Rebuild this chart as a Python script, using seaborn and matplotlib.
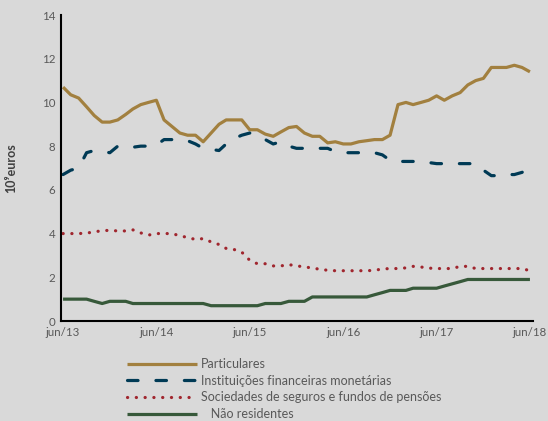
import pandas as pd
import matplotlib
matplotlib.use("Agg")
import matplotlib.pyplot as plt
import seaborn as sns

# monthly observations, jun/2013 .. jun/2018 (10^9 euros)
months = pd.date_range("2013-06-01", periods=61, freq="MS")

particulares = [10.7, 10.35, 10.2, 9.8, 9.4, 9.1, 9.1, 9.2, 9.45, 9.7,
                9.9, 10.0, 10.1, 9.2, 8.9, 8.6, 8.5, 8.5, 8.2, 8.6,
                9.0, 9.2, 9.2, 9.2, 8.75, 8.75, 8.55, 8.45, 8.65, 8.85,
                8.9, 8.6, 8.45, 8.45, 8.15, 8.2, 8.1, 8.1, 8.2, 8.25,
                8.3, 8.3, 8.5, 9.9, 10.0, 9.9, 10.0, 10.1, 10.3, 10.1,
                10.3, 10.45, 10.8, 11.0, 11.1, 11.6, 11.6, 11.6, 11.7, 11.6,
                11.4]

ifm = [6.7, 6.9, 7.0, 7.7, 7.8, 7.75, 7.7, 8.0, 8.0, 7.95,
       8.0, 8.0, 8.05, 8.3, 8.3, 8.3, 8.25, 8.1, 7.9, 7.85,
       7.8, 8.1, 8.35, 8.5, 8.6, 8.5, 8.3, 8.1, 8.2, 8.0,
       7.9, 7.9, 7.9, 7.9, 7.9, 7.75, 7.7, 7.7, 7.7, 7.7,
       7.7, 7.6, 7.35, 7.3, 7.3, 7.3, 7.3, 7.25, 7.2, 7.2,
       7.2, 7.2, 7.2, 7.2, 6.9, 6.65, 6.65, 6.7, 6.7, 6.8,
       7.0]

seguros = [4.0, 4.0, 4.0, 4.02, 4.08, 4.13, 4.15, 4.12, 4.12, 4.17,
           4.03, 3.93, 4.0, 4.0, 4.0, 3.9, 3.82, 3.73, 3.77, 3.62,
           3.5, 3.32, 3.27, 3.15, 2.78, 2.62, 2.62, 2.52, 2.52, 2.58,
           2.52, 2.48, 2.42, 2.37, 2.32, 2.3, 2.3, 2.3, 2.3, 2.3,
           2.32, 2.38, 2.4, 2.4, 2.43, 2.5, 2.47, 2.42, 2.4, 2.4,
           2.4, 2.5, 2.5, 2.4, 2.4, 2.4, 2.4, 2.4, 2.4, 2.4,
           2.3]

nao_residentes = [1.0, 1.0, 1.0, 1.0, 0.9, 0.8, 0.9, 0.9, 0.9, 0.8,
                  0.8, 0.8, 0.8, 0.8, 0.8, 0.8, 0.8, 0.8, 0.8, 0.7,
                  0.7, 0.7, 0.7, 0.7, 0.7, 0.7, 0.8, 0.8, 0.8, 0.9,
                  0.9, 0.9, 1.1, 1.1, 1.1, 1.1, 1.1, 1.1, 1.1, 1.1,
                  1.2, 1.3, 1.4, 1.4, 1.4, 1.5, 1.5, 1.5, 1.5, 1.6,
                  1.7, 1.8, 1.9, 1.9, 1.9, 1.9, 1.9, 1.9, 1.9, 1.9,
                  1.9]

labels = ["Particulares", "Instituições financeiras monetárias",
          "Sociedades de seguros e fundos de pensões", "   Não residentes"]
tick_labels = ["jun/13", "jun/14", "jun/15", "jun/16", "jun/17", "jun/18"]

bg = "#d9d9d9"
sns.set_theme(style="white", rc={"figure.facecolor": bg, "axes.facecolor": bg})
plt.rcParams["font.family"] = ["Lato", "DejaVu Sans"]

fig = plt.figure(figsize=(5.48, 4.21), dpi=100)
ax = fig.add_axes([61 / 548, 100 / 421, 472 / 548, 306 / 421])

series = [particulares, ifm, seguros, nao_residentes]
colors = ["#a2803f", "#003a55", "#a0262e", "#37593a"]
styles = ["-", (0, (3.3, 5.6)), (0, (0.05, 2.7)), "-"]

for vals, lab, col, ls in zip(series, labels, colors, styles):
    df = pd.DataFrame({"mes": months, "valor": vals})
    sns.lineplot(data=df, x="mes", y="valor", ax=ax, color=col, linewidth=2.3,
                 linestyle=ls, label=lab, dash_capstyle="round",
                 solid_capstyle="butt")

ticks = months[::12]
ax.set_xticks(ticks)
ax.set_xticklabels(tick_labels)
ax.set_xlim(months[0] - pd.Timedelta(days=8), months[-1] + pd.Timedelta(days=12))
ax.set_ylim(0, 14)
ax.set_yticks(range(0, 15, 2))
ax.tick_params(axis="both", length=0, labelsize=8.3, labelcolor="#595959", pad=4)

for side in ["top", "right"]:
    ax.spines[side].set_visible(False)
for side in ["left", "bottom"]:
    ax.spines[side].set_color("black")
    ax.spines[side].set_linewidth(1.5)

ax.set_xlabel("")
ax.set_ylabel("10⁹euros", fontsize=9, fontweight="bold", color="#404040")
ax.yaxis.set_label_coords(-0.092, 0.5)

leg = ax.legend(loc="upper left", bbox_to_anchor=(122 / 548, 1 - 353 / 421),
                bbox_transform=fig.transFigure, frameon=False, fontsize=9,
                handlelength=5.6, handletextpad=0.35, labelspacing=0.37,
                borderaxespad=0)
for t in leg.get_texts():
    t.set_color("#595959")

fig.savefig("out.png", dpi=100, facecolor=bg)
